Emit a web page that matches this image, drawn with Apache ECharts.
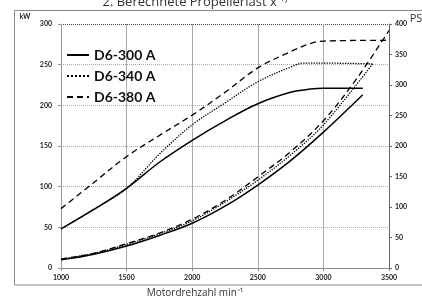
<!DOCTYPE html>
<html>
<head>
<meta charset="utf-8">
<script src="https://cdn.jsdelivr.net/npm/echarts@6/dist/echarts.min.js"></script>
<style>
  html, body { margin: 0; padding: 0; background: #fff; }
  #chart { width: 422px; height: 299px; }
</style>
</head>
<body>
<div id="chart"></div>
<script>
// 转速刻度
const rpmTicks = [1000, 1500, 2000, 2500, 3000, 3500];
const names = ['D6-300 A', 'D6-340 A', 'D6-380 A'];

// 全负荷功率 (kW)
const rpm300 = [1000, 1250, 1500, 1750, 2000, 2250, 2500, 2750, 2900, 3000, 3300];
const kw300  = [48, 72, 98, 130, 157, 181, 202, 216, 220, 221, 221];
const rpm340 = [1000, 1250, 1500, 1750, 2000, 2250, 2500, 2750, 2850, 2950, 3380];
const kw340  = [48, 72, 98, 140, 176, 203, 229, 247, 252, 252, 251];
const rpm380 = [1000, 1250, 1500, 1750, 2000, 2250, 2500, 2750, 2900, 3000, 3500];
const kw380  = [73, 105, 137, 163, 188, 216, 246, 266, 276, 279, 280];

// 螺旋桨负荷 (kW)
const rpmProp300 = [1000, 1250, 1500, 1750, 2000, 2250, 2500, 2750, 3000, 3300];
const kwProp300  = [10, 17, 27, 40, 55, 76, 102, 132, 167, 213];
const rpmProp340 = [1000, 1250, 1500, 1750, 2000, 2250, 2500, 2750, 3000, 3380];
const kwProp340  = [11, 18, 29, 42, 58, 81, 108, 139, 176, 252];
const rpmProp380 = [1000, 1250, 1500, 1750, 2000, 2250, 2500, 2750, 3000, 3250, 3500];
const kwProp380  = [11, 18, 30, 43, 60, 83, 112, 143, 181, 232, 292];

function pairs(xs, ys) {
  return xs.map((x, i) => [x, ys[i]]);
}

// 线型
const styles = [
  { type: 'solid', width: 1.5 },
  { type: 'dotted', width: 1.3 },
  { type: [6, 4], width: 1.3 }
];

function lineSeries(name, data, st) {
  return {
    name: name,
    type: 'line',
    data: data,
    symbol: 'none',
    smooth: 0.35,
    color: '#000',
    lineStyle: { color: '#000', type: st.type, width: st.width },
    z: 3
  };
}

const axisLabelStyle = {
  color: '#222',
  fontSize: 7,
  fontWeight: 'bold',
  fontFamily: 'Lato'
};

const myChart = echarts.init(document.getElementById('chart'));
myChart.setOption({
  animation: false,
  grid: { left: 61, right: 33, top: 24, bottom: 31 },
  graphic: [
    // 外框
    {
      type: 'rect',
      shape: { x: 14.5, y: 10.5, width: 420, height: 274.5 },
      style: { fill: 'none', stroke: '#8a8a8a', lineWidth: 1 },
      silent: true
    },
    {
      type: 'text',
      style: {
        x: 195, y: 9, text: '2. Berechnete Propellerlast x ¹⁾',
        textAlign: 'center', textVerticalAlign: 'bottom',
        fontSize: 13, fontFamily: 'Open Sans', fill: '#333'
      }
    },
    {
      type: 'text',
      style: {
        x: 25, y: 17, text: 'kW', textAlign: 'center', textVerticalAlign: 'middle',
        fontSize: 7, fontWeight: 'bold', fontFamily: 'Lato', fill: '#222'
      }
    },
    {
      type: 'text',
      style: {
        x: 416, y: 19, text: 'PS', textAlign: 'center', textVerticalAlign: 'middle',
        fontSize: 11, fontFamily: 'Open Sans', fill: '#333'
      }
    },
    {
      type: 'text',
      style: {
        x: 195, y: 293, text: 'Motordrehzahl min⁻¹', textAlign: 'center', textVerticalAlign: 'middle',
        fontSize: 10, fontFamily: 'Open Sans', fill: '#333'
      }
    }
  ],
  legend: {
    data: names,
    orient: 'vertical',
    left: 61,
    top: 43,
    itemGap: 7,
    itemWidth: 22,
    itemHeight: 10,
    itemStyle: { opacity: 0 },
    textStyle: { color: '#111', fontSize: 14, fontWeight: 'bold', fontFamily: 'Lato', lineHeight: 14 }
  },
  xAxis: {
    type: 'value',
    min: rpmTicks[0],
    max: rpmTicks[rpmTicks.length - 1],
    interval: 500,
    axisLine: { show: true, lineStyle: { color: '#888', width: 1 } },
    axisTick: { show: true, length: 3, lineStyle: { color: '#888' } },
    axisLabel: Object.assign({ margin: 6, formatter: v => String(v) }, axisLabelStyle),
    splitLine: { show: true, lineStyle: { color: '#aaa', width: 1 } }
  },
  yAxis: [
    {
      type: 'value',
      min: 0,
      max: 300,
      interval: 50,
      axisLine: { show: true, lineStyle: { color: '#999' } },
      axisTick: { show: true, length: 3, lineStyle: { color: '#999' } },
      axisLabel: Object.assign({ margin: 9 }, axisLabelStyle),
      splitLine: {
        show: true,
        lineStyle: {
          color: ['#aaa', '#aaa', '#aaa', '#aaa', '#aaa', '#aaa', '#444'],
          type: 'dotted',
          width: 1
        }
      }
    },
    {
      type: 'value',
      min: 0,
      max: 400,
      interval: 50,
      position: 'right',
      axisLine: { show: true, lineStyle: { color: '#666' } },
      axisTick: { show: true, length: 3, lineStyle: { color: '#666' } },
      axisLabel: Object.assign({ margin: 6 }, axisLabelStyle),
      splitLine: { show: false }
    }
  ],
  series: [
    lineSeries(names[0], pairs(rpm300, kw300), styles[0]),
    lineSeries(names[1], pairs(rpm340, kw340), styles[1]),
    lineSeries(names[2], pairs(rpm380, kw380), styles[2]),
    lineSeries('Propeller 300', pairs(rpmProp300, kwProp300), styles[0]),
    lineSeries('Propeller 340', pairs(rpmProp340, kwProp340), styles[1]),
    lineSeries('Propeller 380', pairs(rpmProp380, kwProp380), styles[2])
  ]
});
</script>
</body>
</html>
